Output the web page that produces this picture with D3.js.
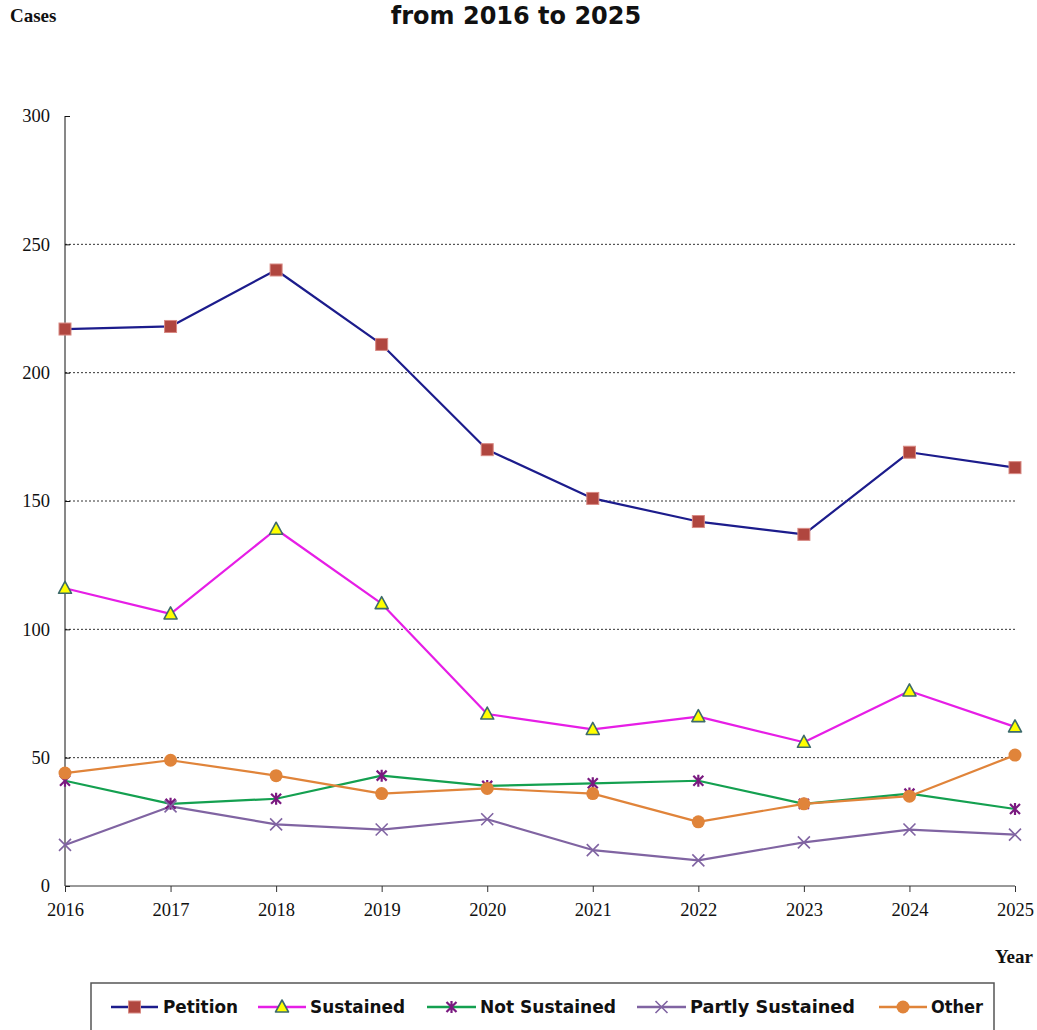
<!DOCTYPE html>
<html>
<head>
<meta charset="utf-8">
<script src="https://cdn.jsdelivr.net/npm/d3@7"></script>
<style>
  html, body { margin: 0; padding: 0; background: #fff; }
  svg { display: block; }
</style>
</head>
<body>
<svg id="chart" width="1037" height="1030"></svg>
<script>
const years = [2016, 2017, 2018, 2019, 2020, 2021, 2022, 2023, 2024, 2025];
const petition = [217, 218, 240, 211, 170, 151, 142, 137, 169, 163];
const sustained = [116, 106, 139, 110, 67, 61, 66, 56, 76, 62];
const notSustained = [41, 32, 34, 43, 39, 40, 41, 32, 36, 30];
const partlySustained = [16, 31, 24, 22, 26, 14, 10, 17, 22, 20];
const other = [44, 49, 43, 36, 38, 36, 25, 32, 35, 51];
const yTicks = [0, 50, 100, 150, 200, 250, 300];
const gridTicks = [50, 100, 150, 200, 250];
const seriesNames = ["Petition", "Sustained", "Not Sustained", "Partly Sustained", "Other"];
const titleText = "from 2016 to 2025";
const yLabel = "Cases";
const xLabel = "Year";

const series = [
  { name: seriesNames[0], values: petition, color: "#1c1c8c", marker: "square" },
  { name: seriesNames[1], values: sustained, color: "#e61ee6", marker: "triangle" },
  { name: seriesNames[2], values: notSustained, color: "#14a050", marker: "asterisk" },
  { name: seriesNames[3], values: partlySustained, color: "#8064a2", marker: "cross" },
  { name: seriesNames[4], values: other, color: "#e0843a", marker: "circle" }
];

const svg = d3.select("#chart");
const x = d3.scaleLinear().domain([2016, 2025]).range([65, 1015]);
const y = d3.scaleLinear().domain([0, 300]).range([886, 116]);

// Title & axis labels
svg.append("text").attr("x", 516).attr("y", 24).attr("text-anchor", "middle")
  .attr("font-family", "DejaVu Sans").attr("font-weight", "bold").attr("font-size", 24)
  .attr("fill", "#111").text(titleText);
svg.append("text").attr("x", 10).attr("y", 22)
  .attr("font-family", "Liberation Serif").attr("font-weight", "bold").attr("font-size", 19)
  .attr("fill", "#111").text(yLabel);
svg.append("text").attr("x", 995).attr("y", 963)
  .attr("font-family", "Liberation Serif").attr("font-weight", "bold").attr("font-size", 19)
  .attr("fill", "#111").text(xLabel);

// Gridlines
svg.append("g").selectAll("line").data(gridTicks).join("line")
  .attr("x1", x(2016)).attr("x2", x(2025))
  .attr("y1", d => y(d)).attr("y2", d => y(d))
  .attr("stroke", "#333").attr("stroke-width", 1).attr("stroke-dasharray", "2,2");

// Y axis
const yAxis = d3.axisRight(y).tickValues(yTicks).tickSize(5).tickFormat("");
const gy = svg.append("g").attr("transform", `translate(${x(2016)},0)`).call(yAxis);
gy.select(".domain").attr("stroke", "#111").attr("d", `M0,${y(300)}V${y(0)}`);
gy.selectAll(".tick line").attr("stroke", "#111");
svg.append("g").selectAll("text").data(yTicks).join("text")
  .attr("x", 50).attr("y", d => y(d)).attr("dy", "0.35em").attr("text-anchor", "end")
  .attr("font-family", "Liberation Serif").attr("font-size", 18.5).attr("fill", "#111")
  .text(d => d);

// X axis
const xAxis = d3.axisBottom(x).tickValues(years).tickSize(6).tickFormat(d3.format("d"));
const gx = svg.append("g").attr("transform", `translate(0,${y(0)})`).call(xAxis);
gx.select(".domain").attr("stroke", "#333").attr("d", `M${x(2016)},0H${x(2025)}`);
gx.selectAll(".tick line").attr("stroke", "#333");
gx.selectAll(".tick text").attr("font-family", "Liberation Serif").attr("font-size", 18.5)
  .attr("fill", "#111").attr("dy", 0).attr("y", 30);

// Marker drawing
function drawMarker(g, type, color) {
  if (type === "square") {
    g.append("rect").attr("x", -6).attr("y", -6).attr("width", 12).attr("height", 12)
      .attr("fill", "#b0463f").attr("stroke", "#d88a84").attr("stroke-width", 1);
  } else if (type === "triangle") {
    g.append("path").attr("d", "M0,-7L6.5,5L-6.5,5Z")
      .attr("fill", "#ffff00").attr("stroke", "#3d6b6b").attr("stroke-width", 1.6)
      .attr("stroke-linejoin", "round");
  } else if (type === "asterisk") {
    g.append("path").attr("d", "M-5,-5L5,5M5,-5L-5,5M0,-6V6")
      .attr("stroke", "#7a1a80").attr("stroke-width", 2.2).attr("fill", "none");
  } else if (type === "cross") {
    g.append("path").attr("d", "M-6,-6L6,6M6,-6L-6,6")
      .attr("stroke", "#8064a2").attr("stroke-width", 1.6).attr("fill", "none");
  } else if (type === "circle") {
    g.append("circle").attr("r", 6.5).attr("fill", "#e0843a");
  }
}

const line = d3.line().x((d, i) => x(years[i])).y(d => y(d));

series.forEach(s => {
  svg.append("path").datum(s.values).attr("d", line)
    .attr("fill", "none").attr("stroke", s.color).attr("stroke-width", 2.2)
    .attr("stroke-linejoin", "round");
});
series.forEach(s => {
  const g = svg.append("g");
  s.values.forEach((v, i) => {
    const m = g.append("g").attr("transform", `translate(${x(years[i])},${y(v)})`);
    drawMarker(m, s.marker, s.color);
  });
});

// Legend
svg.append("rect").attr("x", 91).attr("y", 983).attr("width", 903).attr("height", 70)
  .attr("fill", "#fff").attr("stroke", "#555").attr("stroke-width", 1.5);
const legendPos = [
  { x1: 111, x2: 158, tx: 163, w: 75 },
  { x1: 258, x2: 306, tx: 310, w: 95 },
  { x1: 427, x2: 476, tx: 480, w: 136 },
  { x1: 637, x2: 686, tx: 690, w: 165 },
  { x1: 879, x2: 927, tx: 931, w: 52 }
];
series.forEach((s, i) => {
  const p = legendPos[i];
  const ly = 1007;
  svg.append("line").attr("x1", p.x1).attr("x2", p.x2).attr("y1", ly).attr("y2", ly)
    .attr("stroke", s.color).attr("stroke-width", 2.5);
  const m = svg.append("g").attr("transform", `translate(${(p.x1 + p.x2) / 2},${ly})`);
  drawMarker(m, s.marker, s.color);
  svg.append("text").attr("x", p.tx).attr("y", ly).attr("dy", "0.36em")
    .attr("font-family", "DejaVu Sans").attr("font-weight", "bold").attr("font-size", 17)
    .attr("textLength", p.w).attr("lengthAdjust", "spacingAndGlyphs")
    .attr("fill", "#111").text(s.name);
});
</script>
</body>
</html>
